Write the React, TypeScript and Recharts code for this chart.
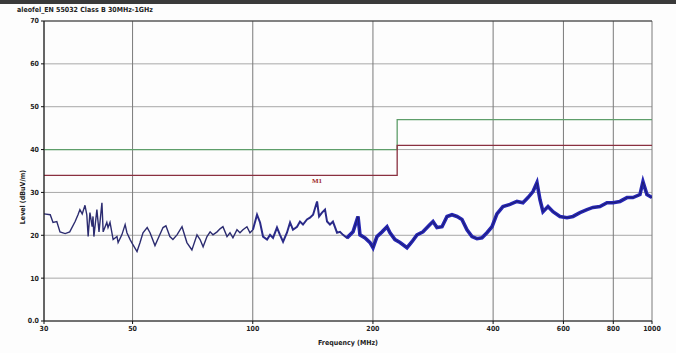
import type { ReactNode } from 'react';
import {
  LineChart,
  Line,
  XAxis,
  YAxis,
  CartesianGrid,
  ReferenceDot,
  ReferenceLine,
} from 'recharts';

// frequency axis (MHz, log) and level axis (dBuV/m)
const freqTicks = [30, 50, 100, 200, 400, 600, 800, 1000];
const levelTicks = [0, 10, 20, 30, 40, 50, 60, 70];

// limit lines, step at 230 MHz
const limitFreq = [30, 230, 230, 1000];
const classBLimit = [40, 40, 47, 47];
const marginLimit = [34, 34, 41, 41];

const traceFreq = [
  30, 31.1, 31.6, 32.3, 32.9, 33.9, 34.8, 35.9, 36.5, 36.9, 37.4, 38.0, 38.4, 38.7, 39.1,
  39.6, 39.8, 40.0, 40.7, 41.2, 41.9, 42.2, 43.1, 43.4, 43.9, 44.7, 45.7, 46.0, 47.0, 47.9,
  48.4, 49.3, 50.1, 51.3, 52.2, 53.1, 54.4, 55.3, 56.9, 57.9, 59.6, 60.6, 62.0, 63.1, 64.6,
  66.5, 68.4, 70.4, 72.5, 73.8, 75.1, 76.8, 78.2, 79.5, 81.4, 82.8, 84.2, 86.2, 87.7, 89.2,
  91.3, 92.9, 94.5, 96.7, 98.4, 100.1, 102.5, 104.3, 106.1, 108.6, 110.5, 112.4, 115.0, 117.0,
  119.1, 121.8, 124.0, 126.1, 129.1, 131.3, 133.6, 136.7, 139.1, 141.6, 144.9, 146.6, 149.1,
  151.7, 153.5, 156.1, 158.8, 162.6, 165.4, 168.3, 172.2, 178.3, 183.5, 185.6, 191.1, 196.7,
  200.1, 204.7, 210.8, 216.9, 220.7, 227.1, 233.8, 243.4, 250.5, 257.8, 266.9, 277.9, 282.8,
  289.3, 297.9, 306.6, 315.5, 324.8, 334.2, 344.0, 354.1, 364.4, 375.1, 386.0, 397.4, 408.9,
  423.3, 440.8, 458.9, 475.1, 489.1, 503.4, 515.1, 524.1, 533.3, 548.9, 564.9, 588.2, 612.4,
  634.0, 660.1, 687.3, 711.4, 740.7, 771.3, 798.4, 831.3, 865.6, 896.0, 932.9, 949.2, 971.2,
  1000,
];
const traceLevel = [
  25.0, 24.8, 23.0, 23.2, 20.8, 20.4, 20.8, 23.2, 24.8, 26.0, 25.0, 27.0, 24.8, 19.7, 25.3,
  22.0, 24.4, 19.7, 26.0, 20.8, 27.6, 20.8, 23.0, 21.8, 23.0, 19.0, 19.7, 18.3, 20.1, 22.5,
  20.6, 19.0, 17.8, 16.2, 18.3, 20.6, 21.8, 20.6, 17.6, 19.2, 21.8, 22.2, 19.7, 19.0, 20.1,
  22.0, 18.3, 16.6, 20.1, 19.0, 17.3, 19.7, 20.8, 20.1, 20.8, 21.5, 22.0, 19.7, 20.6, 19.4,
  21.3, 20.6, 21.3, 22.0, 20.6, 21.3, 24.8, 23.0, 19.7, 19.0, 20.1, 19.4, 21.8, 20.1,
  18.5, 20.6, 23.0, 21.3, 22.0, 23.2, 22.5, 23.7, 24.1, 24.8, 27.9, 24.4, 25.3,
  26.0, 23.2, 22.5, 23.2, 20.6, 20.8, 20.1, 19.4, 20.8, 24.4, 20.1, 19.4, 18.3,
  17.1, 19.7, 20.8, 22.0, 20.6, 19.0, 18.3, 17.1, 18.5, 20.1, 20.8, 22.5, 23.2,
  21.8, 22.0, 24.4, 24.8, 24.4, 23.7, 21.3, 19.7, 19.2, 19.4, 20.6, 22.0, 25.0,
  26.7, 27.2, 27.9, 27.6, 28.8, 30.2, 32.3, 28.3, 25.5, 26.7, 25.5, 24.4, 24.1,
  24.4, 25.3, 26.0, 26.5, 26.7, 27.6, 27.6, 27.9, 28.8, 28.8, 29.5, 32.5, 29.5,
  28.8,
];

const limitA = limitFreq.map((f, i) => ({ f, v: classBLimit[i] }));
const limitB = limitFreq.map((f, i) => ({ f, v: marginLimit[i] }));
const trace = traceFreq.map((f, i) => ({ f, v: traceLevel[i] }));
const traceLow = trace.filter((p) => p.f <= 101);
const traceMid = trace.filter((p) => p.f >= 100 && p.f <= 180);
const traceHigh = trace.filter((p) => p.f >= 172);

const font = 'DejaVu Sans Condensed, DejaVu Sans, sans-serif';
const tickStyle = { fontSize: 7, fill: '#222', fontWeight: 700, fontFamily: font };

export default function App(): ReactNode {
  return (
    <div style={{ position: 'absolute', left: 0, top: 0, width: 676, height: 353, background: '#fdfdfd', overflow: 'hidden' }}>
      <div style={{ position: 'absolute', left: 0, top: 0, width: 676, height: 4, background: '#3a3a3a' }} />
      <div
        style={{
          position: 'absolute',
          left: 17,
          top: 6,
          fontSize: 7,
          fontWeight: 700,
          fontFamily: font,
          color: '#222',
        }}
      >
        aleofel_EN 55032 Class B 30MHz-1GHz
      </div>
      <LineChart width={676} height={353} margin={{ top: 21, right: 24, bottom: 2, left: 14 }}>
        <CartesianGrid vertical={false} stroke="#a8a8a8" strokeWidth={1} />
        <CartesianGrid horizontal={false} stroke="#7a7a7a" strokeWidth={1} />
        <XAxis
          dataKey="f"
          type="number"
          scale="log"
          domain={[30, 1000]}
          ticks={freqTicks}
          allowDataOverflow
          height={30}
          tickSize={3}
          tick={tickStyle}
          stroke="#111"
          label={{ value: 'Frequency (MHz)', position: 'insideBottom', offset: 6, style: tickStyle }}
        />
        <YAxis
          type="number"
          domain={[0, 70]}
          ticks={levelTicks}
          width={30}
          tickSize={3}
          tick={tickStyle}
          stroke="#111"
          tickFormatter={(v: number) => (v === 0 ? '0.0' : String(v))}
          label={{
            value: 'Level (dBuV/m)',
            angle: -90,
            position: 'insideLeft',
            offset: 9,
            dy: 26,
            style: { ...tickStyle, textAnchor: 'middle' },
          }}
        />
        <ReferenceLine y={70} stroke="#333" strokeWidth={1.2} />
        <Line data={limitA} dataKey="v" stroke="#5e9e6a" strokeWidth={1.3} dot={false} isAnimationActive={false} />
        <Line data={limitB} dataKey="v" stroke="#8a3040" strokeWidth={1.3} dot={false} isAnimationActive={false} />
        <Line data={traceLow} dataKey="v" stroke="#2c2c70" strokeWidth={1.4} dot={false} isAnimationActive={false} />
        <Line data={traceMid} dataKey="v" stroke="#2a2a88" strokeWidth={2} dot={false} isAnimationActive={false} />
        <Line data={traceHigh} dataKey="v" stroke="#2626b4" strokeWidth={3.6} dot={false} isAnimationActive={false} />
        <Line data={traceHigh} dataKey="v" stroke="#1c1c60" strokeWidth={0.8} dot={false} isAnimationActive={false} />
        <ReferenceDot
          x={144.9}
          y={32.8}
          r={0}
          label={{ value: 'M1', position: 'center', fontSize: 7, fill: '#a02828', fontWeight: 700 }}
        />
      </LineChart>
    </div>
  );
}
